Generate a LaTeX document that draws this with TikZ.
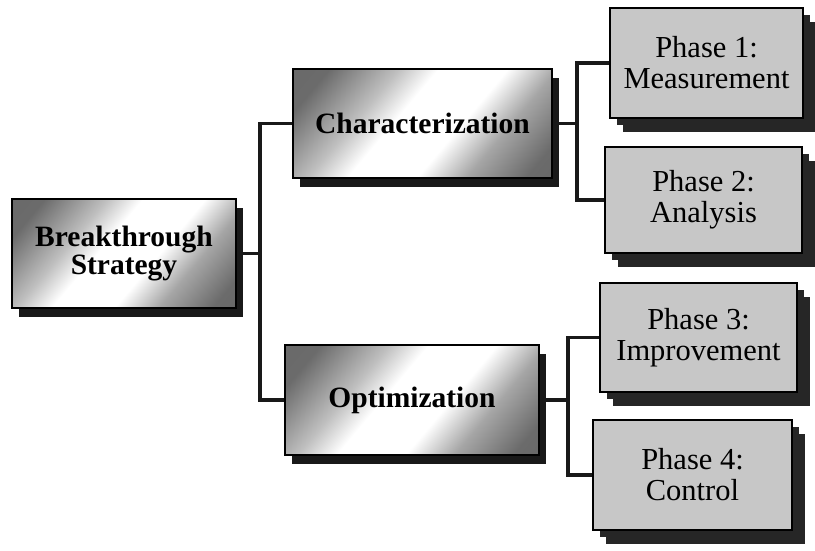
\documentclass[tikz,border=0pt]{standalone}
\usepackage{fontspec}
\setmainfont{Liberation Serif}
\usetikzlibrary{shadows}
\pgfdeclarehorizontalshading{bandshade}{100bp}{color(0bp)=(black!60); color(22bp)=(black!58); color(36bp)=(black!25); color(44bp)=(white); color(58bp)=(white); color(68bp)=(black!35); color(80bp)=(black!58); color(100bp)=(black!62)}
\begin{document}
\begin{tikzpicture}[x=1pt,y=-1pt,
  mainbox/.style={draw=black, line width=1.6pt, align=center,
    font=\bfseries\fontsize{29.5}{28}\selectfont, inner sep=0pt,
    shading=bandshade, shading angle=-40,
    drop shadow={shadow xshift=7pt, shadow yshift=-9pt, fill=black!90, opacity=1}},
  phasebox/.style={draw=black, line width=1.6pt, fill=black!22, align=center,
    font=\fontsize{30.5}{31}\selectfont, inner sep=0pt,
    drop shadow={shadow xshift=13pt, shadow yshift=-14pt, fill=black!85, opacity=1},
    drop shadow={shadow xshift=6.5pt, shadow yshift=-7pt, fill=black!85, opacity=1}},
  conn/.style={line width=3.2pt, draw=black!90}]
\useasboundingbox (0,0) rectangle (815,550);
\node[mainbox, minimum width=224pt, minimum height=109pt] (bs) at (124,253.5) {Breakthrough\\Strategy};
\node[mainbox, minimum width=259pt, minimum height=109pt] (ch) at (422.5,123.5) {Characterization};
\node[mainbox, minimum width=254pt, minimum height=110pt] (op) at (412,400) {Optimization};
\node[phasebox, minimum width=193pt, minimum height=110pt] (p1) at (706.5,63) {Phase 1:\\Measurement};
\node[phasebox, minimum width=197pt, minimum height=106pt] (p2) at (703.5,200) {Phase 2:\\Analysis};
\node[phasebox, minimum width=197pt, minimum height=109pt] (p3) at (698.5,337.5) {Phase 3:\\Improvement};
\node[phasebox, minimum width=199pt, minimum height=110pt] (p4) at (692.5,475) {Phase 4:\\Control};
\coordinate (j1) at (260,253.5);
\coordinate (j2) at (577,123.5);
\coordinate (j3) at (568,400);
\draw[conn] (bs.east) -- (j1);
\draw[conn] (ch.west) -| (j1) |- (op.west);
\draw[conn] (ch.east) -- (j2);
\draw[conn] (p1.west) -| (j2) |- (p2.west);
\draw[conn] (op.east) -- (j3);
\draw[conn] (p3.west) -| (j3) |- (p4.west);
\end{tikzpicture}
\end{document}
